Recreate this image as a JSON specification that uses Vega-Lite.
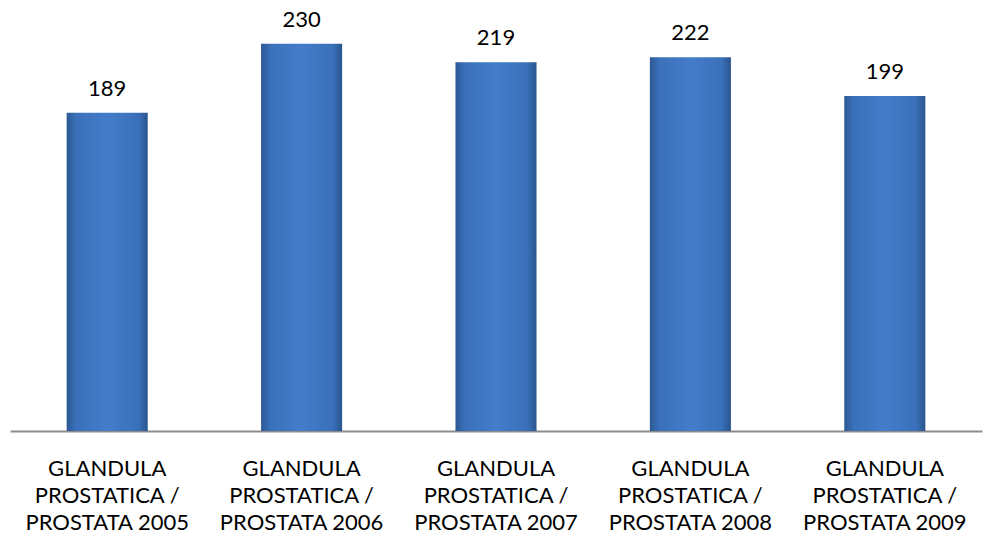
{
  "$schema": "https://vega.github.io/schema/vega-lite/v6.json",
  "width": 972,
  "height": 431,
  "autosize": "none",
  "padding": {"left": 10, "top": 0, "right": 5, "bottom": 124},
  "background": "white",
  "config": {"view": {"stroke": null}},
  "data": {
    "values": [
      {"label": "GLANDULA PROSTATICA / PROSTATA 2005", "value": 189},
      {"label": "GLANDULA PROSTATICA / PROSTATA 2006", "value": 230},
      {"label": "GLANDULA PROSTATICA / PROSTATA 2007", "value": 219},
      {"label": "GLANDULA PROSTATICA / PROSTATA 2008", "value": 222},
      {"label": "GLANDULA PROSTATICA / PROSTATA 2009", "value": 199}
    ]
  },
  "encoding": {
    "x": {
      "field": "label",
      "type": "nominal",
      "sort": null,
      "scale": {"paddingInner": 0.583, "paddingOuter": 0.2915},
      "axis": {
        "title": null,
        "labelExpr": "['GLANDULA', 'PROSTATICA /', slice(datum.value, 22)]",
        "labelAngle": 0,
        "labelFont": "Lato",
        "labelFontSize": 22,
        "labelColor": "#000000",
        "labelLineHeight": 27,
        "labelPadding": 27,
        "labelBaseline": "top",
        "ticks": false,
        "domainColor": "#8c8c8c",
        "domainWidth": 2,
        "labelLimit": 300
      }
    },
    "y": {
      "field": "value",
      "type": "quantitative",
      "scale": {"domain": [0, 256], "nice": false},
      "axis": null
    }
  },
  "layer": [
    {
      "mark": {
        "type": "bar",
        "color": {
          "gradient": "linear",
          "x1": 0, "y1": 0, "x2": 1, "y2": 0,
          "stops": [
            {"offset": 0, "color": "#2c5894"},
            {"offset": 0.12, "color": "#3b71ba"},
            {"offset": 0.5, "color": "#437cc9"},
            {"offset": 0.88, "color": "#3b71ba"},
            {"offset": 1, "color": "#2a5590"}
          ]
        }
      }
    },
    {
      "mark": {
        "type": "text",
        "font": "Lato",
        "fontSize": 22,
        "color": "#000000",
        "baseline": "alphabetic",
        "dy": -17
      },
      "encoding": {"text": {"field": "value", "type": "quantitative"}}
    }
  ]
}
